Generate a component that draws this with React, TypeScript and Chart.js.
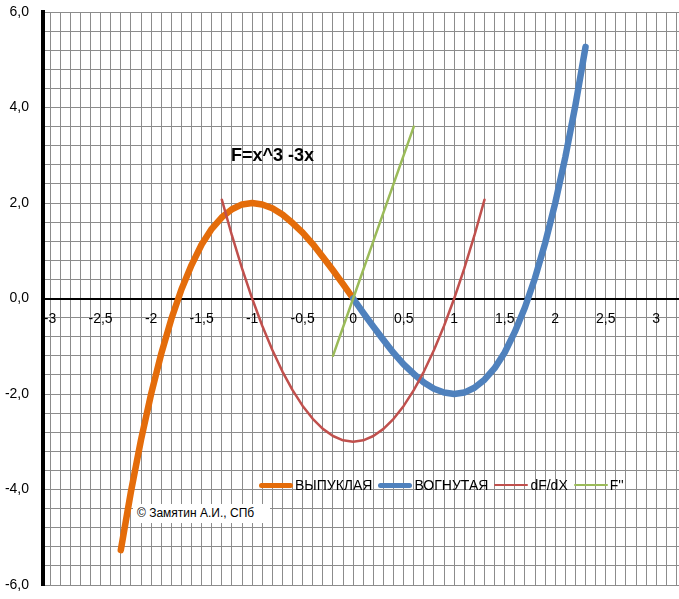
import React, { useEffect, useRef } from "react";
import { Chart, registerables } from "chart.js";

Chart.register(...registerables);

// F = x^3 - 3x, convex branch (orange)
const convexX = [-2.3, -2.2, -2.1, -2.0, -1.9, -1.8, -1.7, -1.6, -1.5, -1.4, -1.3, -1.2, -1.1, -1.0, -0.9, -0.8, -0.7, -0.6, -0.5, -0.4, -0.3, -0.2, -0.1, 0];
const convexY = [-5.27, -4.05, -2.96, -2.0, -1.16, -0.43, 0.19, 0.7, 1.13, 1.46, 1.7, 1.87, 1.97, 2.0, 1.97, 1.89, 1.76, 1.58, 1.38, 1.14, 0.87, 0.59, 0.3, 0];

// concave branch (blue)
const concaveX = [0, 0.1, 0.2, 0.3, 0.4, 0.5, 0.6, 0.7, 0.8, 0.9, 1.0, 1.1, 1.2, 1.3, 1.4, 1.5, 1.6, 1.7, 1.8, 1.9, 2.0, 2.1, 2.2, 2.3];
const concaveY = [0, -0.3, -0.59, -0.87, -1.14, -1.38, -1.58, -1.76, -1.89, -1.97, -2.0, -1.97, -1.87, -1.7, -1.46, -1.13, -0.7, -0.19, 0.43, 1.16, 2.0, 2.96, 4.05, 5.27];

// dF/dX (red)
const derivX = [-1.3, -1.2, -1.1, -1.0, -0.9, -0.8, -0.7, -0.6, -0.5, -0.4, -0.3, -0.2, -0.1, 0, 0.1, 0.2, 0.3, 0.4, 0.5, 0.6, 0.7, 0.8, 0.9, 1.0, 1.1, 1.2, 1.3];
const derivY = [2.07, 1.32, 0.63, 0, -0.57, -1.08, -1.53, -1.92, -2.25, -2.52, -2.73, -2.88, -2.97, -3.0, -2.97, -2.88, -2.73, -2.52, -2.25, -1.92, -1.53, -1.08, -0.57, 0, 0.63, 1.32, 2.07];

// F'' (green)
const secondX = [-0.2, 0, 0.2, 0.4, 0.6];
const secondY = [-1.2, 0, 1.2, 2.4, 3.6];

const seriesNames = ["ВЫПУКЛАЯ", "ВОГНУТАЯ", "dF/dX", "F''"];
const seriesColors = ["#E46C0A", "#4F81BD", "#C0504D", "#9BBB59"];
const seriesWidths = [6.5, 6.5, 2.5, 2.5];
const legendWidths = [5, 5, 2.5, 2.5];

const xTickLabels = [-3, -2.5, -2, -1.5, -1, -0.5, 0, 0.5, 1, 1.5, 2, 2.5, 3];
const yTickLabels = [-6, -4, -2, 0, 2, 4, 6];

const FONT = "'Liberation Sans', Arial, sans-serif";

const toPoints = (xs: number[], ys: number[]) => xs.map((x, i) => ({ x, y: ys[i] }));
const near = (list: number[], v: number) => list.find((t) => Math.abs(t - v) < 1e-6);

// vertical grid every 0.1 from -3.0 to 3.2
const xGrid: number[] = [];
for (let i = -30; i <= 32; i++) xGrid.push(i / 10);

const App = () => {
  const chartRef = useRef<HTMLCanvasElement>(null);

  useEffect(() => {
    if (!chartRef.current) return;
    const series = [
      toPoints(convexX, convexY),
      toPoints(concaveX, concaveY),
      toPoints(derivX, derivY),
      toPoints(secondX, secondY),
    ];
    const chart = new Chart(chartRef.current, {
      type: "scatter",
      data: {
        datasets: series.map((data, i) => ({
          label: seriesNames[i],
          data,
          showLine: true,
          borderColor: seriesColors[i],
          backgroundColor: seriesColors[i],
          borderWidth: seriesWidths[i],
          borderCapStyle: "round",
          borderJoinStyle: "round",
          pointRadius: 0,
          tension: 0,
          order: series.length - i,
        })),
      },
      options: {
        animation: false,
        responsive: true,
        maintainAspectRatio: false,
        layout: { padding: { top: 12, bottom: 14, left: 0, right: 0 } },
        plugins: { legend: { display: false }, tooltip: { enabled: false } },
        scales: {
          x: {
            type: "linear",
            position: { y: 0 },
            min: -3.07,
            max: 3.225,
            afterBuildTicks: (s: any) => {
              s.ticks = xGrid.map((value) => ({ value }));
            },
            afterFit: (s: any) => {
              s.paddingLeft = 0;
              s.paddingRight = 0;
            },
            grid: { color: "#8c8c8c", lineWidth: 1, drawTicks: false },
            border: { color: "#000", width: 2 },
            ticks: {
              autoSkip: false,
              maxRotation: 0,
              padding: 12,
              color: "#000",
              font: { family: FONT, size: 14 },
              callback: (v: any) => {
                const t = near(xTickLabels, Number(v));
                return t === undefined ? "" : String(t).replace(".", ",");
              },
            },
          },
          y: {
            type: "linear",
            min: -6,
            max: 6,
            afterFit: (s: any) => {
              s.width = 43;
              s.paddingTop = 0;
              s.paddingBottom = 0;
            },
            grid: { color: "#8c8c8c", lineWidth: 1, drawTicks: false },
            border: { color: "#000", width: 4 },
            ticks: {
              stepSize: 0.4,
              autoSkip: false,
              padding: 14,
              color: "#000",
              font: { family: FONT, size: 14 },
              callback: (v: any) => {
                const t = near(yTickLabels, Number(v));
                return t === undefined ? "" : t.toFixed(1).replace(".", ",");
              },
            },
          },
        },
      },
    } as any);
    return () => {
      chart.destroy();
    };
  }, []);

  return (
    <div style={{ position: "absolute", left: 0, top: 0, width: 679, height: 599, background: "#fff" }}>
      <canvas ref={chartRef} />
      <div
        style={{
          position: "absolute",
          left: 231,
          top: 145,
          fontFamily: FONT,
          fontWeight: "bold",
          fontSize: 18,
          lineHeight: "20px",
          color: "#000",
          whiteSpace: "pre",
        }}
      >
        F=x^3 -3x
      </div>
      <div
        style={{
          position: "absolute",
          left: 259,
          top: 476,
          display: "flex",
          alignItems: "center",
          fontFamily: FONT,
          fontSize: 14,
          lineHeight: "18px",
          color: "#000",
          whiteSpace: "pre",
        }}
      >
        {seriesNames.map((name, i) => (
          <div key={name} style={{ display: "flex", alignItems: "center", marginRight: 6 }}>
            <span
              style={{
                display: "inline-block",
                width: 34,
                height: legendWidths[i],
                borderRadius: legendWidths[i],
                background: seriesColors[i],
                marginRight: 2,
              }}
            />
            <span>{name}</span>
          </div>
        ))}
      </div>
      <div
        style={{
          position: "absolute",
          left: 133,
          top: 504,
          width: 137,
          height: 19,
          background: "#fff",
          fontFamily: "Arial, 'Liberation Sans', sans-serif",
          fontSize: 12,
          lineHeight: "19px",
          color: "#000",
          paddingLeft: 4,
          boxSizing: "border-box",
          whiteSpace: "pre",
        }}
      >
        © Замятин А.И., СПб
      </div>
    </div>
  );
};

export default App;
